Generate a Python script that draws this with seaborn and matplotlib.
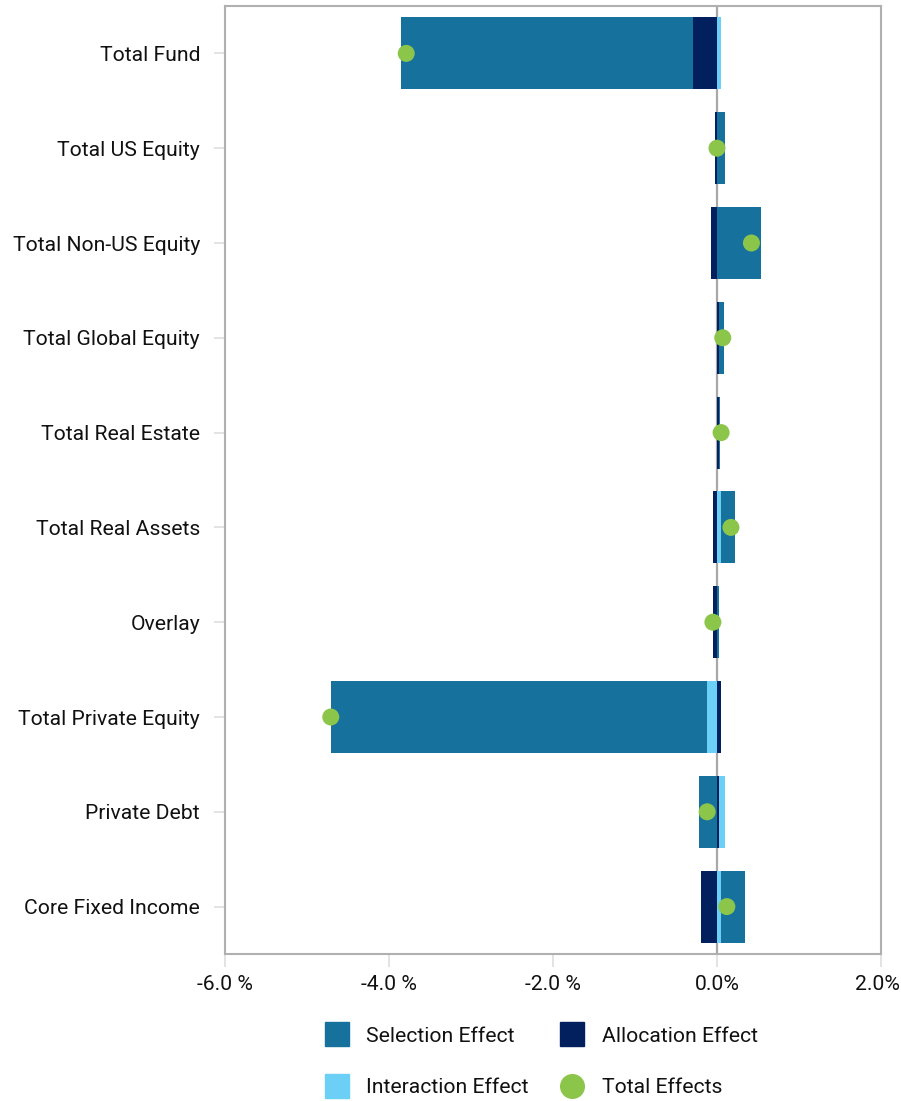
import matplotlib
matplotlib.use("Agg")
import matplotlib.pyplot as plt
from matplotlib.lines import Line2D
from matplotlib.transforms import ScaledTranslation
import seaborn as sns
import numpy as np
import pandas as pd

categories = ["Total Fund", "Total US Equity", "Total Non-US Equity", "Total Global Equity",
              "Total Real Estate", "Total Real Assets", "Overlay", "Total Private Equity",
              "Private Debt", "Core Fixed Income"]
selection = [-3.56, 0.10, 0.54, 0.07, 0.02, 0.17, 0.02, -4.59, -0.22, 0.29]
allocation = [-0.29, -0.02, -0.07, 0.02, 0.02, -0.05, -0.05, 0.05, 0.02, -0.20]
interaction = [0.05, 0.00, 0.00, 0.00, 0.00, 0.05, 0.00, -0.12, 0.08, 0.05]
total = [-3.79, 0.00, 0.42, 0.07, 0.05, 0.17, -0.05, -4.71, -0.12, 0.12]

x_ticks = [-6, -4, -2, 0, 2]
x_tick_labels = ["-6.0 %", "-4.0 %", "-2.0 %", "0.0%", "2.0%"]

series_names = ["Selection Effect", "Allocation Effect", "Interaction Effect", "Total Effects"]
c_sel, c_alloc, c_inter, c_tot = "#16719d", "#02205e", "#6ccff6", "#8bc54a"

sns.set_theme(style="white")
plt.rcParams["font.family"] = ["Roboto", "DejaVu Sans"]
FS = 15.2

fig = plt.figure(figsize=(9.01, 11.01), dpi=100)
ax = fig.add_axes([225/901, 1-954/1101, (881-225)/901, (954-6)/1101])

sel = np.array(selection); alo = np.array(allocation); itr = np.array(interaction)
# stacking order from zero: allocation, interaction, selection (separately per sign)
layers = []
for sign in (1, -1):
    a = np.clip(alo*sign, 0, None)
    i = np.clip(itr*sign, 0, None)
    s = np.clip(sel*sign, 0, None)
    layers.append((sign*(a + i + s), c_sel))
    layers.append((sign*(a + i), c_inter))
    layers.append((sign*a, c_alloc))

ax.axvline(0, color="#a8a8a8", lw=1.6, zorder=0.5)
for vals, col in layers:
    df = pd.DataFrame({"cat": categories, "val": vals})
    sns.barplot(data=df, x="val", y="cat", orient="h", color=col, width=0.76,
                saturation=1, ax=ax, zorder=2, linewidth=0, edgecolor="none")

dft = pd.DataFrame({"cat": categories, "val": total})
sns.scatterplot(data=dft, x="val", y="cat", color=c_tot, s=150, edgecolor="none",
                linewidth=0, zorder=5, ax=ax)

ax.set_xlim(-6, 2)
ax.set_ylim(9.5, -0.5)
ax.set_xticks(x_ticks)
ax.set_xticklabels(x_tick_labels)
ax.set_xlabel("")
ax.set_ylabel("")
for sp in ax.spines.values():
    sp.set_color("#b0b0b0")
    sp.set_linewidth(1.5)
ax.tick_params(axis="x", bottom=True, length=9, width=1.3, color="#e0e0e0",
               pad=6, labelsize=FS, labelcolor="#111111")
ax.tick_params(axis="y", left=True, length=8, width=1.3, color="#e0e0e0",
               pad=10, labelsize=FS, labelcolor="#111111")
ax.grid(False)
# keep the last tick label inside the canvas
last = ax.get_xticklabels()[-1]
last.set_transform(last.get_transform() + ScaledTranslation(-4/100, 0, fig.dpi_scale_trans))
if ax.get_legend():
    ax.get_legend().remove()

h_sel = Line2D([], [], ls="none", marker="s", markersize=17, color=c_sel)
h_alo = Line2D([], [], ls="none", marker="s", markersize=17, color=c_alloc)
h_itr = Line2D([], [], ls="none", marker="s", markersize=17, color=c_inter)
h_tot = Line2D([], [], ls="none", marker="o", markersize=17, color=c_tot)
# column-major fill so rows read: Selection, Allocation / Interaction, Total
fig.legend([h_sel, h_itr, h_alo, h_tot],
           [series_names[0], series_names[2], series_names[1], series_names[3]],
           loc="center", bbox_to_anchor=(541/901, 1-1062/1101),
           ncol=2, frameon=False, fontsize=FS, handlelength=1.2, handletextpad=0.8,
           columnspacing=1.45, labelspacing=1.55, labelcolor="#111111")

fig.savefig("out.png", dpi=100)
